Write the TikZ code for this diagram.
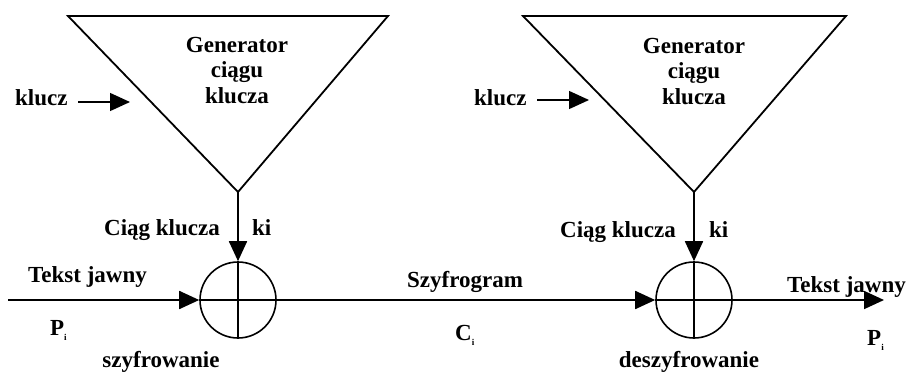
\documentclass[tikz,border=0pt]{standalone}
\usepackage{fontspec}
\setmainfont{Liberation Serif}
\usetikzlibrary{arrows.meta}
\newcommand{\subi}{\raisebox{-5pt}{\fontsize{9}{9}\selectfont i}}
\begin{document}
\begin{tikzpicture}[x=1pt,y=-1pt,
  thick line/.style={line width=1.8pt, black},
  tip/.style={-{Triangle[length=20pt,width=18pt]}},
  lbl/.style={font=\fontsize{23}{25.5}\selectfont\bfseries, inner sep=0pt},
  xor/.style={circle, draw, line width=1.6pt, minimum size=76pt, inner sep=0pt}]
\useasboundingbox (0,0) rectangle (908,375);
% generator 1
\coordinate (g1tl) at (68,16);
\coordinate (g1tr) at (388,16);
\coordinate (g1a) at (238,192);
\draw[thick line, line join=miter] (g1tl) -- (g1tr) -- (g1a) -- cycle;
\node[lbl, align=center, anchor=base] (gen1) at (237,103) {Generator\\ciągu\\klucza};
% generator 2
\coordinate (g2tl) at (523,16);
\coordinate (g2tr) at (846,16);
\coordinate (g2a) at (694,192);
\draw[thick line, line join=miter] (g2tl) -- (g2tr) -- (g2a) -- cycle;
\node[lbl, align=center, anchor=base] (gen2) at (694,104) {Generator\\ciągu\\klucza};
% xor nodes
\node[xor] (x1) at (238,300) {};
\node[xor] (x2) at (694,300) {};
% key inputs
\node[lbl, anchor=base west] (k1) at (15,105) {klucz};
\coordinate (k1s) at (78,102);
\coordinate (k1e) at (130,102);
\draw[line width=1.4pt, tip] (k1s) -- (k1e);
\node[lbl, anchor=base west] (k2) at (474,105) {klucz};
\coordinate (k2s) at (537,100);
\coordinate (k2e) at (589,100);
\draw[line width=1.4pt, tip] (k2s) -- (k2e);
% keystream
\draw[thick line, tip] (g1a) -- (x1.north);
\draw[thick line] (x1.north) -- (x1.south);
\draw[thick line, tip] (g2a) -- (x2.north);
\draw[thick line] (x2.north) -- (x2.south);
\node[lbl, anchor=base east] (c1) at (220,235) {Ciąg klucza};
\node[lbl, anchor=base west] (ki1) at (252,235) {ki};
\node[lbl, anchor=base east] (c2) at (676,237) {Ciąg klucza};
\node[lbl, anchor=base west] (ki2) at (709,237) {ki};
% main line
\coordinate (in) at (8,300);
\coordinate (out) at (884,300);
\draw[thick line, tip] (in) -- (x1.west);
\draw[thick line] (x1.west) -- (x1.east);
\draw[thick line, tip] (x1.east) -- (x2.west);
\draw[thick line] (x2.west) -- (x2.east);
\draw[thick line, tip] (x2.east) -- (out);
% labels
\node[lbl, anchor=base west] (tj1) at (28,282) {Tekst jawny};
\node[lbl, anchor=base west] (p1) at (50,335) {P\subi};
\node[lbl, anchor=base] (szy) at (161,367) {szyfrowanie};
\node[lbl, anchor=base] (sg) at (465,287) {Szyfrogram};
\node[lbl, anchor=base west] (ci) at (455,340) {C\subi};
\node[lbl, anchor=base] (desz) at (689,367) {deszyfrowanie};
\node[lbl, anchor=base west] (tj2) at (787,292) {Tekst jawny};
\node[lbl, anchor=base west] (p2) at (867,345) {P\subi};
\end{tikzpicture}
\end{document}
